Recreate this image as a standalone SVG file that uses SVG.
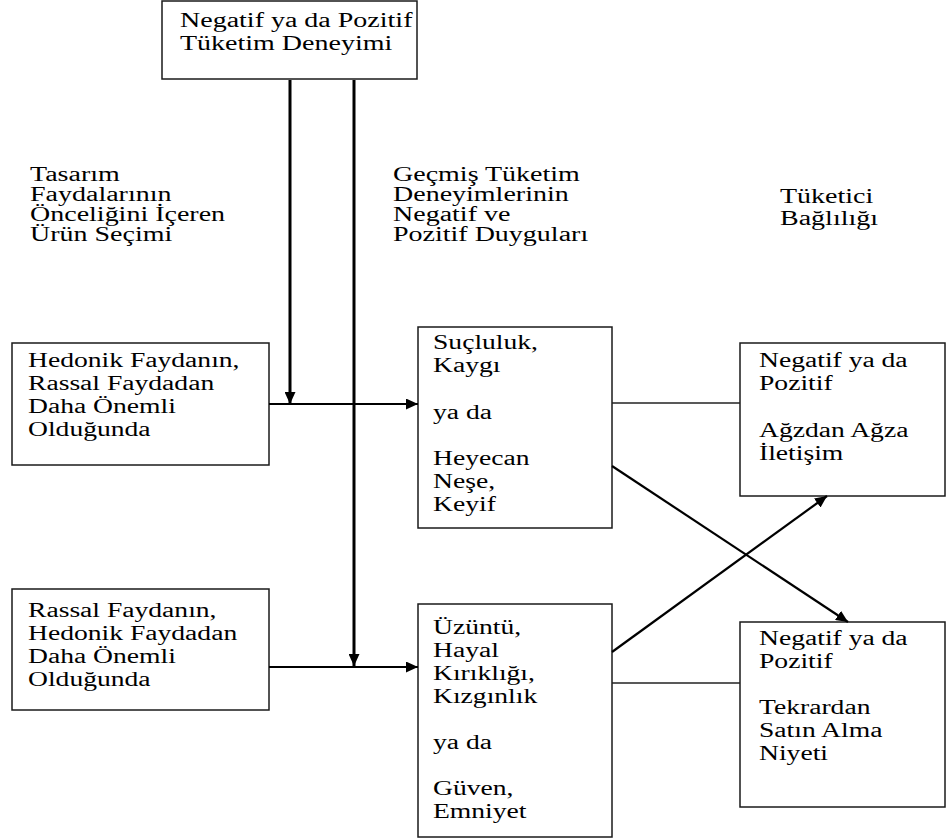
<svg xmlns="http://www.w3.org/2000/svg" width="952" height="839" viewBox="0 0 952 839">
  <style>
    .box { fill: #ffffff; stroke: #1a1a1a; stroke-width: 1.5; }
    .t { font-family: 'Liberation Serif', 'DejaVu Serif', serif; font-size: 20px; fill: #000; }
    .thick { stroke: #000; stroke-width: 3; fill: none; }
    .mid { stroke: #000; stroke-width: 2.2; fill: none; }
    .thin { stroke: #222; stroke-width: 1.5; fill: none; }
  </style>
  <defs>
    <marker id="ah" markerUnits="userSpaceOnUse" markerWidth="13" markerHeight="11" refX="12" refY="5.5" orient="auto">
      <path d="M0,0 L12,5.5 L0,11 z" fill="#000"/>
    </marker>
  </defs>
  <rect width="952" height="839" fill="#ffffff"/>

  <g id="top-node">
    <rect class="box" x="162" y="1" width="255" height="78"/>
    <g transform="translate(180 0) scale(1.4 1)">
      <text class="t" font-family="Liberation Serif, serif"><tspan x="0" y="27">Negatif ya da Pozitif</tspan><tspan x="0" y="50">Tüketim Deneyimi</tspan></text>
    </g>
  </g>

  <g id="label-left">
    <g transform="translate(30 0) scale(1.4 1)">
      <text class="t" font-family="Liberation Serif, serif"><tspan x="0" y="181">Tasarım</tspan><tspan x="0" y="201">Faydalarının</tspan><tspan x="0" y="221">Önceliğini İçeren</tspan><tspan x="0" y="241">Ürün Seçimi</tspan></text>
    </g>
  </g>

  <g id="label-middle">
    <g transform="translate(393 0) scale(1.4 1)">
      <text class="t" font-family="Liberation Serif, serif"><tspan x="0" y="181">Geçmiş Tüketim</tspan><tspan x="0" y="201">Deneyimlerinin</tspan><tspan x="0" y="221">Negatif ve</tspan><tspan x="0" y="241">Pozitif Duyguları</tspan></text>
    </g>
  </g>

  <g id="label-right">
    <g transform="translate(780 0) scale(1.4 1)">
      <text class="t" font-family="Liberation Serif, serif"><tspan x="0" y="203">Tüketici</tspan><tspan x="0" y="225">Bağlılığı</tspan></text>
    </g>
  </g>

  <g id="hedonik-node">
    <rect class="box" x="12" y="343" width="257" height="122"/>
    <g transform="translate(28 0) scale(1.38 1)">
      <text class="t" font-family="Liberation Serif, serif"><tspan x="0" y="367">Hedonik Faydanın,</tspan><tspan x="0" y="390">Rassal Faydadan</tspan><tspan x="0" y="413">Daha Önemli</tspan><tspan x="0" y="436">Olduğunda</tspan></text>
    </g>
  </g>

  <g id="rassal-node">
    <rect class="box" x="12" y="589" width="257" height="121"/>
    <g transform="translate(28 0) scale(1.38 1)">
      <text class="t" font-family="Liberation Serif, serif"><tspan x="0" y="617">Rassal Faydanın,</tspan><tspan x="0" y="640">Hedonik Faydadan</tspan><tspan x="0" y="663">Daha Önemli</tspan><tspan x="0" y="686">Olduğunda</tspan></text>
    </g>
  </g>

  <g id="duygu1-node">
    <rect class="box" x="418" y="327" width="194" height="201"/>
    <g transform="translate(433 0) scale(1.38 1)">
      <text class="t" font-family="Liberation Serif, serif"><tspan x="0" y="349">Suçluluk,</tspan><tspan x="0" y="372">Kaygı</tspan><tspan x="0" y="419">ya da</tspan><tspan x="0" y="465">Heyecan</tspan><tspan x="0" y="488">Neşe,</tspan><tspan x="0" y="511">Keyif</tspan></text>
    </g>
  </g>

  <g id="duygu2-node">
    <rect class="box" x="418" y="604" width="194" height="233"/>
    <g transform="translate(433 0) scale(1.38 1)">
      <text class="t" font-family="Liberation Serif, serif"><tspan x="0" y="634">Üzüntü,</tspan><tspan x="0" y="657">Hayal</tspan><tspan x="0" y="680">Kırıklığı,</tspan><tspan x="0" y="703">Kızgınlık</tspan><tspan x="0" y="749">ya da</tspan><tspan x="0" y="795">Güven,</tspan><tspan x="0" y="818">Emniyet</tspan></text>
    </g>
  </g>

  <g id="agizdan-node">
    <rect class="box" x="740" y="343" width="205" height="153"/>
    <g transform="translate(759 0) scale(1.38 1)">
      <text class="t" font-family="Liberation Serif, serif"><tspan x="0" y="367">Negatif ya da</tspan><tspan x="0" y="390">Pozitif</tspan><tspan x="0" y="437">Ağzdan Ağza</tspan><tspan x="0" y="460">İletişim</tspan></text>
    </g>
  </g>

  <g id="satin-node">
    <rect class="box" x="740" y="622" width="205" height="185"/>
    <g transform="translate(759 0) scale(1.38 1)">
      <text class="t" font-family="Liberation Serif, serif"><tspan x="0" y="645">Negatif ya da</tspan><tspan x="0" y="668">Pozitif</tspan><tspan x="0" y="714">Tekrardan</tspan><tspan x="0" y="737">Satın Alma</tspan><tspan x="0" y="760">Niyeti</tspan></text>
    </g>
  </g>

  <g id="connectors">
    <line class="thick" x1="290" y1="80" x2="290" y2="404" marker-end="url(#ah)"/>
    <line class="thick" x1="354" y1="80" x2="354" y2="666" marker-end="url(#ah)"/>
    <line class="mid" x1="269" y1="404" x2="418" y2="404" marker-end="url(#ah)"/>
    <line class="mid" x1="269" y1="667" x2="418" y2="667" marker-end="url(#ah)"/>
    <line class="thin" x1="612" y1="403" x2="740" y2="403"/>
    <line class="thin" x1="612" y1="683" x2="740" y2="683"/>
    <line class="mid" x1="612" y1="466" x2="848" y2="622" marker-end="url(#ah)"/>
    <line class="mid" x1="612" y1="652" x2="827" y2="496" marker-end="url(#ah)"/>
  </g>
</svg>
